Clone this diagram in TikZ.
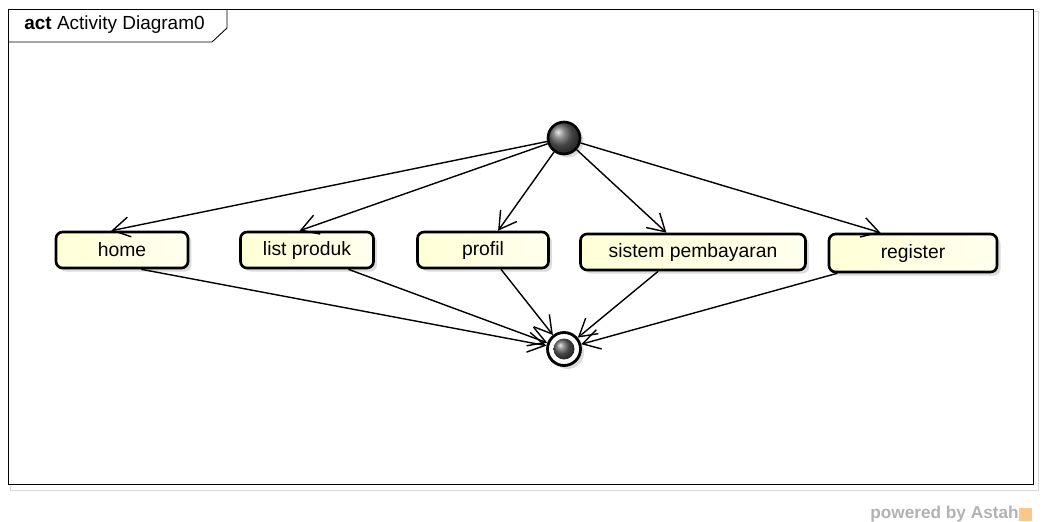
\documentclass[tikz,border=0pt]{standalone}
\usepackage{fontspec}
\setmainfont{Liberation Sans}
\usepackage{tikz}
\usetikzlibrary{positioning}
\usetikzlibrary{shapes,calc,arrows.meta,shadows}

\definecolor{actfill}{RGB}{255,255,214}
\definecolor{actlight}{RGB}{255,255,238}

\begin{document}
\begin{tikzpicture}[x=0.02cm,y=-0.02cm,>={Straight Barb[length=3.4mm,width=4mm]},
  action node/.style={rectangle,rounded corners=0.13cm,draw,line width=1.5pt,
    left color=actfill,right color=actlight,minimum height=0.72cm,
    font=\fontsize{11}{13}\selectfont,
    drop shadow={shadow xshift=0.07cm,shadow yshift=-0.07cm,fill=gray!45,opacity=0.6}},
  start node/.style={circle,draw,line width=1.5pt,ball color=gray!75!black,minimum size=0.64cm,inner sep=0pt,
    drop shadow={shadow xshift=0.07cm,shadow yshift=-0.07cm,fill=gray!45,opacity=0.6}},
  end node/.style={circle,draw,line width=1.6pt,fill=white,minimum size=0.66cm,inner sep=0pt,
    drop shadow={shadow xshift=0.07cm,shadow yshift=-0.07cm,fill=gray!45,opacity=0.6}}]
\useasboundingbox (0,0) rectangle (1043,521);
% frame
\draw[gray!30] (10,11) rectangle (1038,490);
\draw[fill=white,line width=0.5pt] (8,9) rectangle (1033,484);
\draw[line width=0.5pt] (8,42) -- (212,42) -- (227,28) -- (227,9);
\node[anchor=west,inner sep=0pt,font=\fontsize{10.8}{12}\selectfont] (title) at (24,25) {\textbf{act} Activity Diagram0};
% nodes
\node[start node] (init) at (564,138) {};
\node[action node,minimum width=2.64cm] (home) at (122,250) {home};
\node[action node,minimum width=2.66cm] (list) at (307,250) {list produk};
\node[action node,minimum width=2.62cm] (profil) at (483,250) {profil};
\node[action node,minimum width=4.5cm] (bayar) at (693,252) {sistem pembayaran};
\node[action node,minimum width=3.36cm,minimum height=0.76cm] (register) at (913,253) {register};
\node[end node] (final) at (564,349) {};
\node[circle,ball color=gray!75!black,minimum size=0.42cm,inner sep=0pt] (finalcore) at (final) {};
% flows
\draw[->, line width=.8] (init) -- (home.119);
\draw[->, line width=.8] (init) -- (list.111);
\draw[->, line width=.8] (init) -- (profil.52);
\draw[->, line width=.8] (init) -- (bayar.144);
\draw[->, line width=.8] (init) -- (register.148);
\draw[->, line width=.8] (home.-45) -- (final);
\draw[->, line width=.8] (list.-25) -- (final);
\draw[->, line width=.8] (profil.-47) -- (final);
\draw[->, line width=.8] (bayar.209) -- (final);
\draw[->, line width=.8] (register.195) -- (final);
% footer
\node[anchor=east,inner sep=0pt,text=gray!60,font=\fontsize{9.8}{11}\selectfont\bfseries] (powered) at (1019,514) {powered by Astah};
\node[anchor=west,inner sep=0pt,fill=orange!45,minimum size=0.26cm] (logo) at (powered.east) {};
\end{tikzpicture}
\end{document}
